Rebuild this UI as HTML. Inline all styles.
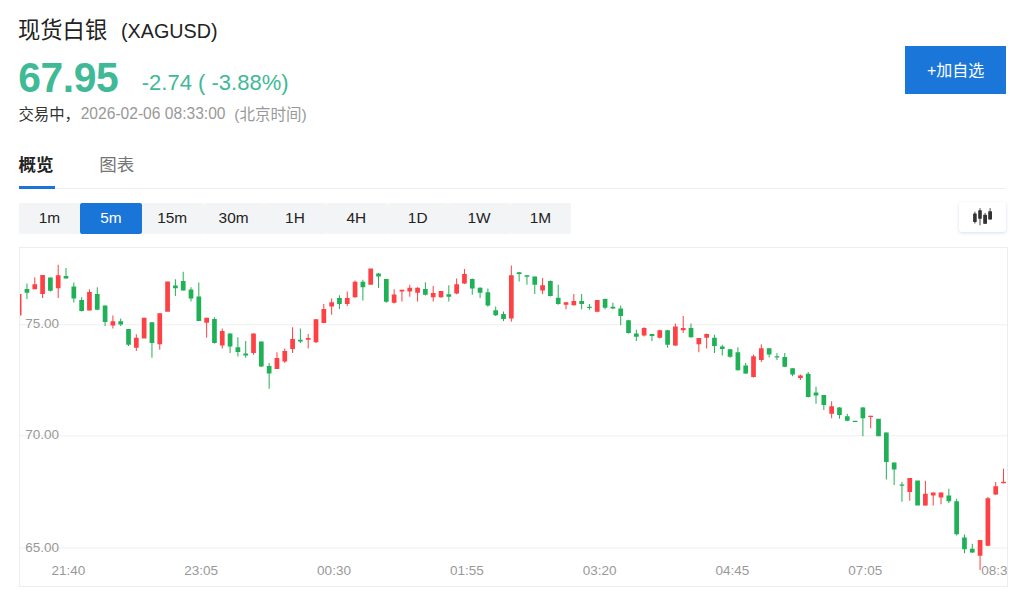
<!DOCTYPE html>
<html lang="zh-CN"><head><meta charset="utf-8"><title>现货白银 (XAGUSD)</title>
<style>
html,body{margin:0;padding:0;background:#fff;}
body{width:1024px;height:596px;position:relative;overflow:hidden;font-family:"Liberation Sans",sans-serif;color:#222;}
.g{position:absolute;display:block;overflow:visible}
.g text{font-family:"Liberation Sans","Noto Sans CJK SC",sans-serif}
.t{position:absolute;white-space:nowrap;line-height:1;margin:0}
.price{left:18.2px;top:57.71px;font-size:40.8px;font-weight:bold;color:#3fb996;letter-spacing:-0.4px;transform:scaleY(1.02);transform-origin:0 0.8465em}
.chg{left:141.8px;top:72.13px;font-size:22px;color:#3fb996;transform:scaleY(1.03);transform-origin:0 0.8465em}
.date{left:80.7px;top:106.04px;font-size:15.6px;color:#999;transform:scaleY(1.07);transform-origin:0 0.8465em}
.tabline{position:absolute;left:19px;top:188px;width:987px;height:1px;background:#eeeff1}
.tabul{position:absolute;left:18.8px;top:185.6px;width:35.8px;height:3.2px;background:#1a74d9}
.btn{position:absolute;top:203px;height:30.8px;width:61.37px;background:#f3f4f6;color:#222;font-size:15.4px;line-height:30.8px;text-align:center;border-radius:2px}
.btn.on{background:#1975d8;color:#fff}
.add{position:absolute;left:905px;top:46.2px;width:101px;height:47.5px;background:#1a76d9}
.ico{position:absolute;left:959px;top:202.4px;width:47.4px;height:30px;background:#fff;border-radius:3px;box-shadow:0 1px 3.5px rgba(90,130,200,.26)}
.chart{position:absolute;left:19px;top:247px;width:987px;height:338px;border:1px solid #ededed;overflow:hidden;box-sizing:content-box}
.chart svg{position:absolute;left:0;top:0}
.yl,.xl{position:absolute;font-size:13.5px;color:#999;line-height:1;white-space:nowrap}
.xl{width:60px;text-align:center}
</style></head><body>

<svg class="g" role="img" aria-label="现货白银" style="left:16px;top:16px" width="95" height="27" viewBox="0 0 95 27"><title>现货白银</title><text x="2" y="22" font-size="22.3" fill="#222">现货白银</text></svg>
<svg class="g" role="img" aria-label="(XAGUSD)" style="left:119px;top:17px" width="101" height="27" viewBox="0 0 101 27"><title>(XAGUSD)</title><text x="2" y="20.6" font-size="21" fill="#222" textLength="96.5" lengthAdjust="spacingAndGlyphs">(XAGUSD)</text></svg>
<div class="t price">67.95</div>
<div class="t chg">-2.74 ( -3.88%)</div>
<svg class="g" role="img" aria-label="交易中，" style="left:16px;top:103px" width="56" height="21" viewBox="0 0 56 21"><title>交易中，</title><text x="2.4" y="16.5" font-size="15.4" fill="#333">交易中，</text></svg>
<div class="t date">2026-02-06 08:33:00</div>
<svg class="g" role="img" aria-label="(北京时间)" style="left:232px;top:103px" width="77" height="22" viewBox="0 0 77 22"><title>(北京时间)</title><text x="2.3" y="16.5" font-size="15.5" fill="#999">(北京时间)</text></svg>
<div class="add"></div>
<svg class="g" role="img" aria-label="+加自选" style="left:925px;top:59px" width="62" height="21" viewBox="0 0 62 21"><title>+加自选</title><text x="2" y="17" font-size="16" fill="#fff">+加自选</text></svg>
<svg class="g" role="img" aria-label="概览" style="left:16px;top:154px" width="40" height="21" viewBox="0 0 40 21"><title>概览</title><text x="2.5" y="17" font-size="17.5" font-weight="bold" fill="#222">概览</text></svg>
<svg class="g" role="img" aria-label="图表" style="left:97px;top:154px" width="40" height="21" viewBox="0 0 40 21"><title>图表</title><text x="2.3" y="17.2" font-size="17.5" fill="#757575">图表</text></svg>
<div class="tabline"></div><div class="tabul"></div>
<div class="btn" style="left:18.80px">1m</div>
<div class="btn on" style="left:80.17px">5m</div>
<div class="btn" style="left:141.54px">15m</div>
<div class="btn" style="left:202.91px">30m</div>
<div class="btn" style="left:264.28px">1H</div>
<div class="btn" style="left:325.65px">4H</div>
<div class="btn" style="left:387.02px">1D</div>
<div class="btn" style="left:448.39px">1W</div>
<div class="btn" style="left:509.76px">1M</div>
<div class="ico"></div>
<svg class="g" style="left:0;top:0" width="1024" height="240" viewBox="0 0 1024 240"><g fill="#333"><rect x="973.10" y="213.50" width="3.60" height="8.50" rx="0.5"/><rect x="974.45" y="211.70" width="0.9" height="11.80"/><rect x="978.20" y="210.20" width="3.60" height="8.60" rx="0.5"/><rect x="979.55" y="208.20" width="0.9" height="17.10"/><rect x="983.20" y="214.70" width="3.80" height="9.10" rx="0.5"/><rect x="984.65" y="212.90" width="0.9" height="11.10"/><rect x="988.20" y="211.20" width="3.80" height="8.40" rx="0.5"/><rect x="989.65" y="208.20" width="0.9" height="11.40"/></g></svg>
<div class="chart">
<svg width="988" height="338" viewBox="0 0 988 338"><rect x="0" y="76.25" width="988" height="1" fill="#f0f0f0"/><rect x="0" y="187.25" width="988" height="1" fill="#f0f0f0"/><rect x="0" y="299.50" width="988" height="1" fill="#f0f0f0"/><rect x="-3.21" y="46.00" width="4.70" height="21.50" fill="#fd4144"/><rect x="6.45" y="35.50" width="1" height="15.50" fill="#20b157"/><rect x="4.60" y="41.00" width="4.70" height="3.75" fill="#20b157"/><rect x="14.26" y="29.25" width="1" height="12.00" fill="#fd4144"/><rect x="12.41" y="36.25" width="4.70" height="5.00" fill="#fd4144"/><rect x="22.08" y="27.00" width="1" height="23.00" fill="#fd4144"/><rect x="20.23" y="27.00" width="4.70" height="19.00" fill="#fd4144"/><rect x="29.89" y="29.50" width="1" height="14.00" fill="#20b157"/><rect x="28.04" y="29.50" width="4.70" height="13.25" fill="#20b157"/><rect x="37.70" y="16.75" width="1" height="33.25" fill="#fd4144"/><rect x="35.85" y="27.25" width="4.70" height="13.00" fill="#fd4144"/><rect x="45.51" y="20.00" width="1" height="10.50" fill="#20b157"/><rect x="43.66" y="28.00" width="4.70" height="2.50" fill="#20b157"/><rect x="53.33" y="34.50" width="1" height="20.00" fill="#20b157"/><rect x="51.48" y="38.50" width="4.70" height="12.00" fill="#20b157"/><rect x="61.14" y="49.25" width="1" height="14.25" fill="#20b157"/><rect x="59.29" y="52.00" width="4.70" height="11.00" fill="#20b157"/><rect x="68.95" y="41.25" width="1" height="21.25" fill="#fd4144"/><rect x="67.10" y="44.00" width="4.70" height="18.50" fill="#fd4144"/><rect x="76.76" y="39.25" width="1" height="23.00" fill="#20b157"/><rect x="74.91" y="46.00" width="4.70" height="15.75" fill="#20b157"/><rect x="84.58" y="57.50" width="1" height="20.50" fill="#20b157"/><rect x="82.73" y="57.50" width="4.70" height="16.50" fill="#20b157"/><rect x="92.39" y="67.50" width="1" height="13.00" fill="#fd4144"/><rect x="90.54" y="73.25" width="4.70" height="4.25" fill="#fd4144"/><rect x="100.20" y="70.50" width="1" height="7.50" fill="#20b157"/><rect x="98.35" y="73.25" width="4.70" height="3.25" fill="#20b157"/><rect x="108.01" y="81.00" width="1" height="17.00" fill="#20b157"/><rect x="106.16" y="81.00" width="4.70" height="15.75" fill="#20b157"/><rect x="115.82" y="86.25" width="1" height="16.75" fill="#fd4144"/><rect x="113.97" y="89.75" width="4.70" height="10.00" fill="#fd4144"/><rect x="121.79" y="69.75" width="4.70" height="20.75" fill="#fd4144"/><rect x="131.45" y="74.25" width="1" height="35.50" fill="#20b157"/><rect x="129.60" y="74.25" width="4.70" height="20.75" fill="#20b157"/><rect x="139.26" y="65.25" width="1" height="36.50" fill="#fd4144"/><rect x="137.41" y="65.25" width="4.70" height="31.00" fill="#fd4144"/><rect x="145.22" y="33.50" width="4.70" height="30.25" fill="#fd4144"/><rect x="154.89" y="31.25" width="1" height="16.75" fill="#20b157"/><rect x="153.04" y="37.50" width="4.70" height="2.75" fill="#20b157"/><rect x="162.70" y="23.75" width="1" height="18.75" fill="#20b157"/><rect x="160.85" y="33.00" width="4.70" height="9.50" fill="#20b157"/><rect x="170.51" y="39.25" width="1" height="14.25" fill="#20b157"/><rect x="168.66" y="41.50" width="4.70" height="9.00" fill="#20b157"/><rect x="178.32" y="34.50" width="1" height="38.50" fill="#20b157"/><rect x="176.47" y="48.50" width="4.70" height="24.50" fill="#20b157"/><rect x="186.14" y="69.75" width="1" height="20.00" fill="#fd4144"/><rect x="184.29" y="69.75" width="4.70" height="5.00" fill="#fd4144"/><rect x="193.95" y="69.25" width="1" height="26.25" fill="#20b157"/><rect x="192.10" y="71.00" width="4.70" height="24.00" fill="#20b157"/><rect x="201.76" y="80.50" width="1" height="20.00" fill="#fd4144"/><rect x="199.91" y="83.00" width="4.70" height="14.50" fill="#fd4144"/><rect x="209.57" y="85.50" width="1" height="19.50" fill="#20b157"/><rect x="207.72" y="85.50" width="4.70" height="13.00" fill="#20b157"/><rect x="217.39" y="89.25" width="1" height="19.25" fill="#20b157"/><rect x="215.54" y="99.25" width="4.70" height="4.75" fill="#20b157"/><rect x="225.20" y="93.00" width="1" height="16.75" fill="#20b157"/><rect x="223.35" y="105.50" width="4.70" height="2.00" fill="#20b157"/><rect x="233.01" y="85.50" width="1" height="21.25" fill="#fd4144"/><rect x="231.16" y="85.50" width="4.70" height="19.50" fill="#fd4144"/><rect x="240.82" y="93.50" width="1" height="25.50" fill="#20b157"/><rect x="238.97" y="93.50" width="4.70" height="25.00" fill="#20b157"/><rect x="248.64" y="115.00" width="1" height="25.75" fill="#20b157"/><rect x="246.79" y="118.00" width="4.70" height="7.50" fill="#20b157"/><rect x="256.45" y="104.25" width="1" height="16.75" fill="#fd4144"/><rect x="254.60" y="110.00" width="4.70" height="11.00" fill="#fd4144"/><rect x="264.26" y="100.50" width="1" height="14.50" fill="#fd4144"/><rect x="262.41" y="103.00" width="4.70" height="10.50" fill="#fd4144"/><rect x="272.07" y="79.25" width="1" height="25.75" fill="#fd4144"/><rect x="270.22" y="91.00" width="4.70" height="10.00" fill="#fd4144"/><rect x="279.89" y="80.50" width="1" height="14.50" fill="#20b157"/><rect x="278.04" y="91.75" width="4.70" height="1.75" fill="#20b157"/><rect x="287.70" y="86.00" width="1" height="14.50" fill="#fd4144"/><rect x="285.85" y="90.00" width="4.70" height="1.75" fill="#fd4144"/><rect x="295.51" y="71.25" width="1" height="23.75" fill="#fd4144"/><rect x="293.66" y="71.25" width="4.70" height="23.00" fill="#fd4144"/><rect x="303.32" y="56.00" width="1" height="19.00" fill="#fd4144"/><rect x="301.47" y="61.00" width="4.70" height="14.00" fill="#fd4144"/><rect x="311.14" y="50.50" width="1" height="16.25" fill="#fd4144"/><rect x="309.29" y="54.25" width="4.70" height="4.25" fill="#fd4144"/><rect x="318.95" y="47.25" width="1" height="13.75" fill="#20b157"/><rect x="317.10" y="50.00" width="4.70" height="6.00" fill="#20b157"/><rect x="326.76" y="43.50" width="1" height="14.50" fill="#fd4144"/><rect x="324.91" y="50.00" width="4.70" height="6.00" fill="#fd4144"/><rect x="334.57" y="32.50" width="1" height="17.25" fill="#fd4144"/><rect x="332.72" y="33.75" width="4.70" height="15.50" fill="#fd4144"/><rect x="342.39" y="31.75" width="1" height="20.75" fill="#20b157"/><rect x="340.54" y="33.75" width="4.70" height="5.50" fill="#20b157"/><rect x="348.35" y="20.50" width="4.70" height="16.25" fill="#fd4144"/><rect x="358.01" y="25.00" width="1" height="15.00" fill="#20b157"/><rect x="356.16" y="25.50" width="4.70" height="3.00" fill="#20b157"/><rect x="365.82" y="31.00" width="1" height="23.75" fill="#20b157"/><rect x="363.97" y="31.00" width="4.70" height="22.75" fill="#20b157"/><rect x="373.64" y="41.25" width="1" height="14.25" fill="#fd4144"/><rect x="371.79" y="46.50" width="4.70" height="8.25" fill="#fd4144"/><rect x="381.45" y="41.75" width="1" height="11.75" fill="#fd4144"/><rect x="379.60" y="41.75" width="4.70" height="1.75" fill="#fd4144"/><rect x="389.26" y="36.75" width="1" height="12.00" fill="#fd4144"/><rect x="387.41" y="39.75" width="4.70" height="3.75" fill="#fd4144"/><rect x="397.07" y="39.25" width="1" height="14.25" fill="#fd4144"/><rect x="395.22" y="39.75" width="4.70" height="5.00" fill="#fd4144"/><rect x="404.89" y="34.25" width="1" height="13.25" fill="#20b157"/><rect x="403.04" y="41.00" width="4.70" height="5.75" fill="#20b157"/><rect x="412.70" y="38.00" width="1" height="15.50" fill="#fd4144"/><rect x="410.85" y="45.00" width="4.70" height="4.25" fill="#fd4144"/><rect x="420.51" y="43.00" width="1" height="6.75" fill="#fd4144"/><rect x="418.66" y="43.00" width="4.70" height="6.25" fill="#fd4144"/><rect x="428.32" y="37.25" width="1" height="16.25" fill="#20b157"/><rect x="426.47" y="46.25" width="4.70" height="2.50" fill="#20b157"/><rect x="436.14" y="30.50" width="1" height="15.75" fill="#fd4144"/><rect x="434.29" y="36.25" width="4.70" height="9.25" fill="#fd4144"/><rect x="443.95" y="21.00" width="1" height="15.00" fill="#fd4144"/><rect x="442.10" y="26.00" width="4.70" height="9.50" fill="#fd4144"/><rect x="451.76" y="30.50" width="1" height="16.25" fill="#20b157"/><rect x="449.91" y="31.00" width="4.70" height="9.50" fill="#20b157"/><rect x="459.57" y="39.25" width="1" height="10.75" fill="#20b157"/><rect x="457.72" y="39.75" width="4.70" height="5.00" fill="#20b157"/><rect x="467.39" y="40.50" width="1" height="18.25" fill="#20b157"/><rect x="465.54" y="44.25" width="4.70" height="13.25" fill="#20b157"/><rect x="475.20" y="58.50" width="1" height="9.50" fill="#20b157"/><rect x="473.35" y="62.25" width="4.70" height="5.00" fill="#20b157"/><rect x="483.01" y="63.50" width="1" height="9.50" fill="#20b157"/><rect x="481.16" y="66.00" width="4.70" height="5.00" fill="#20b157"/><rect x="490.82" y="17.50" width="1" height="56.25" fill="#fd4144"/><rect x="488.97" y="27.25" width="4.70" height="43.25" fill="#fd4144"/><rect x="498.64" y="24.25" width="1" height="9.25" fill="#20b157"/><rect x="496.79" y="24.25" width="4.70" height="1.75" fill="#20b157"/><rect x="506.45" y="27.25" width="1" height="9.50" fill="#20b157"/><rect x="504.60" y="27.25" width="4.70" height="1.50" fill="#20b157"/><rect x="514.26" y="28.50" width="1" height="17.50" fill="#20b157"/><rect x="512.41" y="28.50" width="4.70" height="8.25" fill="#20b157"/><rect x="522.08" y="30.00" width="1" height="16.00" fill="#fd4144"/><rect x="520.23" y="37.25" width="4.70" height="5.25" fill="#fd4144"/><rect x="529.89" y="32.50" width="1" height="16.00" fill="#20b157"/><rect x="528.04" y="33.00" width="4.70" height="15.00" fill="#20b157"/><rect x="537.70" y="36.75" width="1" height="20.00" fill="#20b157"/><rect x="535.85" y="49.75" width="4.70" height="6.25" fill="#20b157"/><rect x="545.51" y="54.25" width="1" height="7.00" fill="#fd4144"/><rect x="543.66" y="54.25" width="4.70" height="2.50" fill="#fd4144"/><rect x="553.33" y="46.00" width="1" height="11.50" fill="#fd4144"/><rect x="551.48" y="53.00" width="4.70" height="4.25" fill="#fd4144"/><rect x="561.14" y="46.00" width="1" height="15.25" fill="#20b157"/><rect x="559.29" y="53.00" width="4.70" height="3.00" fill="#20b157"/><rect x="568.95" y="56.00" width="1" height="5.75" fill="#20b157"/><rect x="567.10" y="58.75" width="4.70" height="1.25" fill="#20b157"/><rect x="576.76" y="52.00" width="1" height="12.25" fill="#fd4144"/><rect x="574.91" y="52.00" width="4.70" height="11.75" fill="#fd4144"/><rect x="584.58" y="50.50" width="1" height="10.75" fill="#20b157"/><rect x="582.73" y="51.00" width="4.70" height="8.75" fill="#20b157"/><rect x="592.39" y="54.75" width="1" height="6.50" fill="#20b157"/><rect x="590.54" y="58.75" width="4.70" height="1.75" fill="#20b157"/><rect x="600.20" y="57.50" width="1" height="19.75" fill="#20b157"/><rect x="598.35" y="60.50" width="4.70" height="7.50" fill="#20b157"/><rect x="608.01" y="71.75" width="1" height="13.75" fill="#20b157"/><rect x="606.16" y="72.25" width="4.70" height="12.75" fill="#20b157"/><rect x="615.83" y="81.75" width="1" height="11.25" fill="#20b157"/><rect x="613.98" y="85.50" width="4.70" height="3.25" fill="#20b157"/><rect x="623.64" y="79.25" width="1" height="9.25" fill="#fd4144"/><rect x="621.79" y="80.00" width="4.70" height="7.50" fill="#fd4144"/><rect x="631.45" y="86.00" width="1" height="7.00" fill="#20b157"/><rect x="629.60" y="86.00" width="4.70" height="2.00" fill="#20b157"/><rect x="639.26" y="81.75" width="1" height="8.75" fill="#fd4144"/><rect x="637.41" y="82.25" width="4.70" height="7.50" fill="#fd4144"/><rect x="647.08" y="81.75" width="1" height="18.00" fill="#20b157"/><rect x="645.23" y="82.25" width="4.70" height="14.50" fill="#20b157"/><rect x="654.89" y="75.50" width="1" height="22.50" fill="#fd4144"/><rect x="653.04" y="78.50" width="4.70" height="19.00" fill="#fd4144"/><rect x="662.70" y="68.00" width="1" height="17.00" fill="#fd4144"/><rect x="660.85" y="80.00" width="4.70" height="2.25" fill="#fd4144"/><rect x="670.51" y="75.50" width="1" height="14.25" fill="#20b157"/><rect x="668.66" y="80.00" width="4.70" height="9.25" fill="#20b157"/><rect x="678.33" y="90.00" width="1" height="14.25" fill="#fd4144"/><rect x="676.48" y="90.00" width="4.70" height="6.25" fill="#fd4144"/><rect x="686.14" y="85.50" width="1" height="15.00" fill="#fd4144"/><rect x="684.29" y="86.00" width="4.70" height="3.75" fill="#fd4144"/><rect x="693.95" y="86.75" width="1" height="18.25" fill="#20b157"/><rect x="692.10" y="89.75" width="4.70" height="8.25" fill="#20b157"/><rect x="701.76" y="96.75" width="1" height="10.75" fill="#20b157"/><rect x="699.91" y="98.50" width="4.70" height="2.50" fill="#20b157"/><rect x="709.58" y="101.00" width="1" height="8.75" fill="#20b157"/><rect x="707.73" y="101.25" width="4.70" height="7.50" fill="#20b157"/><rect x="717.39" y="99.25" width="1" height="23.25" fill="#20b157"/><rect x="715.54" y="104.25" width="4.70" height="18.00" fill="#20b157"/><rect x="725.20" y="115.00" width="1" height="11.00" fill="#20b157"/><rect x="723.35" y="117.50" width="4.70" height="8.00" fill="#20b157"/><rect x="733.01" y="106.50" width="1" height="23.00" fill="#fd4144"/><rect x="731.16" y="108.25" width="4.70" height="20.75" fill="#fd4144"/><rect x="740.83" y="96.25" width="1" height="17.75" fill="#fd4144"/><rect x="738.98" y="100.25" width="4.70" height="11.75" fill="#fd4144"/><rect x="748.64" y="100.25" width="1" height="9.25" fill="#20b157"/><rect x="746.79" y="100.25" width="4.70" height="6.25" fill="#20b157"/><rect x="756.45" y="105.25" width="1" height="6.75" fill="#20b157"/><rect x="754.60" y="108.25" width="4.70" height="1.25" fill="#20b157"/><rect x="764.26" y="105.00" width="1" height="14.00" fill="#20b157"/><rect x="762.41" y="109.00" width="4.70" height="9.75" fill="#20b157"/><rect x="772.08" y="120.25" width="1" height="8.00" fill="#20b157"/><rect x="770.23" y="120.25" width="4.70" height="6.25" fill="#20b157"/><rect x="779.89" y="126.50" width="1" height="5.50" fill="#fd4144"/><rect x="778.04" y="127.50" width="4.70" height="2.50" fill="#fd4144"/><rect x="787.70" y="124.00" width="1" height="25.50" fill="#20b157"/><rect x="785.85" y="125.75" width="4.70" height="23.25" fill="#20b157"/><rect x="795.51" y="138.75" width="1" height="17.00" fill="#20b157"/><rect x="793.66" y="144.50" width="4.70" height="3.00" fill="#20b157"/><rect x="803.33" y="147.00" width="1" height="15.00" fill="#20b157"/><rect x="801.48" y="147.00" width="4.70" height="10.00" fill="#20b157"/><rect x="811.14" y="153.25" width="1" height="17.00" fill="#fd4144"/><rect x="809.29" y="158.25" width="4.70" height="7.50" fill="#fd4144"/><rect x="818.95" y="159.00" width="1" height="11.75" fill="#20b157"/><rect x="817.10" y="159.50" width="4.70" height="7.50" fill="#20b157"/><rect x="826.76" y="165.75" width="1" height="7.50" fill="#20b157"/><rect x="824.91" y="168.25" width="4.70" height="4.50" fill="#20b157"/><rect x="832.73" y="172.75" width="4.70" height="1.25" fill="#20b157"/><rect x="842.39" y="159.00" width="1" height="29.25" fill="#20b157"/><rect x="840.54" y="159.50" width="4.70" height="10.75" fill="#20b157"/><rect x="850.20" y="167.75" width="1" height="12.50" fill="#fd4144"/><rect x="848.35" y="167.75" width="4.70" height="1.25" fill="#fd4144"/><rect x="856.16" y="170.75" width="4.70" height="17.50" fill="#20b157"/><rect x="865.83" y="184.50" width="1" height="47.00" fill="#20b157"/><rect x="863.98" y="184.50" width="4.70" height="29.50" fill="#20b157"/><rect x="873.64" y="214.50" width="1" height="22.50" fill="#20b157"/><rect x="871.79" y="214.50" width="4.70" height="7.00" fill="#20b157"/><rect x="881.45" y="234.00" width="1" height="19.75" fill="#20b157"/><rect x="879.60" y="236.50" width="4.70" height="1.25" fill="#20b157"/><rect x="889.26" y="230.00" width="1" height="22.75" fill="#fd4144"/><rect x="887.41" y="230.00" width="4.70" height="14.00" fill="#fd4144"/><rect x="895.23" y="232.50" width="4.70" height="25.00" fill="#20b157"/><rect x="904.89" y="232.75" width="1" height="25.00" fill="#fd4144"/><rect x="903.04" y="245.75" width="4.70" height="11.75" fill="#fd4144"/><rect x="912.70" y="244.50" width="1" height="13.00" fill="#fd4144"/><rect x="910.85" y="244.50" width="4.70" height="3.00" fill="#fd4144"/><rect x="920.51" y="244.50" width="1" height="11.75" fill="#fd4144"/><rect x="918.66" y="244.50" width="4.70" height="5.00" fill="#fd4144"/><rect x="928.33" y="240.75" width="1" height="14.25" fill="#20b157"/><rect x="926.48" y="247.50" width="4.70" height="5.75" fill="#20b157"/><rect x="936.14" y="250.75" width="1" height="36.75" fill="#20b157"/><rect x="934.29" y="253.25" width="4.70" height="33.00" fill="#20b157"/><rect x="943.95" y="286.50" width="1" height="18.75" fill="#20b157"/><rect x="942.10" y="289.50" width="4.70" height="11.75" fill="#20b157"/><rect x="951.76" y="295.75" width="1" height="9.25" fill="#20b157"/><rect x="949.91" y="300.75" width="4.70" height="3.75" fill="#20b157"/><rect x="959.58" y="292.00" width="1" height="30.00" fill="#fd4144"/><rect x="957.73" y="292.00" width="4.70" height="15.75" fill="#fd4144"/><rect x="967.39" y="249.00" width="1" height="49.25" fill="#fd4144"/><rect x="965.54" y="250.25" width="4.70" height="47.50" fill="#fd4144"/><rect x="975.20" y="234.00" width="1" height="13.00" fill="#fd4144"/><rect x="973.35" y="238.25" width="4.70" height="8.25" fill="#fd4144"/><rect x="983.01" y="220.75" width="1" height="14.50" fill="#fd4144"/><rect x="981.16" y="233.75" width="4.70" height="1.50" fill="#fd4144"/></svg>
<div class="yl" style="left:5.20px;top:69.35px">75.00</div>
<div class="yl" style="left:5.20px;top:180.35px">70.00</div>
<div class="yl" style="left:5.20px;top:292.60px">65.00</div>
<div class="xl" style="left:18.40px;top:315.50px">21:40</div>
<div class="xl" style="left:151.21px;top:315.50px">23:05</div>
<div class="xl" style="left:284.02px;top:315.50px">00:30</div>
<div class="xl" style="left:416.84px;top:315.50px">01:55</div>
<div class="xl" style="left:549.65px;top:315.50px">03:20</div>
<div class="xl" style="left:682.46px;top:315.50px">04:45</div>
<div class="xl" style="left:815.27px;top:315.50px">07:05</div>
<div class="xl" style="left:948.09px;top:315.50px">08:30</div>
</div>
</body></html>
